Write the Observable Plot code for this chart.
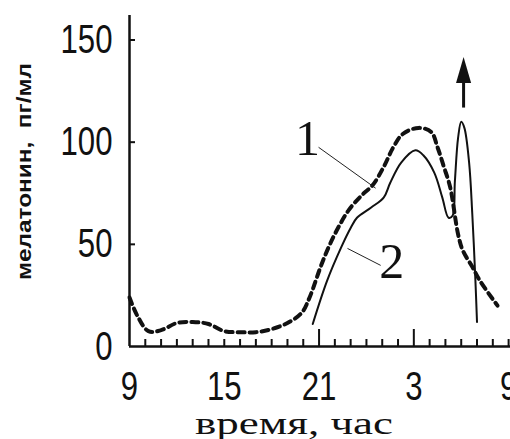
<!DOCTYPE html>
<html><head><meta charset="utf-8">
<script src="https://cdn.jsdelivr.net/npm/d3@7"></script>
<script src="https://cdn.jsdelivr.net/npm/@observablehq/plot@0.6"></script>
<style>body{margin:0;background:#fff}</style>
</head><body><div id="chart"></div>
<script>
// Curve 1 (dashed): hour of day (9..33, where 24+ = next day) and melatonin pg/ml
const hours1 = [9.0, 9.5, 10.2, 11.0, 12.0, 13.0, 14.0, 15.0, 16.0, 17.0, 18.0, 19.0, 19.9, 20.4, 21.1, 21.6, 22.2, 22.9, 23.7, 24.4, 25.1, 25.7, 26.3, 27.3, 28.1, 28.5, 28.9, 29.3, 29.8, 30.1, 30.7, 31.2, 32.3];
const values1 = [24, 15, 7.5, 8, 11.5, 12, 11, 7.5, 7, 7, 8.5, 11.5, 16.5, 24, 39, 48.5, 58, 67, 74, 79, 88, 97.5, 104, 107, 105, 97.5, 88, 78, 55, 47, 39, 32, 20];
// Curve 2 (solid)
const hours2 = [20.6, 21.5, 22.4, 23.0, 23.4, 24.3, 25.1, 25.5, 26.2, 27.1, 27.6, 28.3, 28.8, 29.2, 29.45, 29.6, 29.8, 30.0, 30.2, 30.5, 30.7, 30.9, 31.0];
const values2 = [11, 32, 48.5, 58, 63, 68, 73, 80, 90, 96, 93.6, 85, 73, 63, 64, 81, 102, 110, 107, 90, 65, 32, 12];
// Axis ticks
const yTickValues = [0, 50, 100, 150];
const xLabelHours = [9, 15, 21, 27, 33];
const xMajorHours = [21, 27];
const xMinorHours = [10,11,12,13,14,15,16,17,18,19,20,22,23,24,25,26,28,29,30,31,32,33];
// Annotations
const curveLabels = [{h: 20.27, v: 93.6, t: "1"}, {h: 25.6, v: 33.3, t: "2"}];
const leaders = [{h1: 20.97, v1: 97.5, h2: 24.58, v2: 77.5}, {h1: 22.8, v1: 48, h2: 24.9, v2: 39.7}];
const arrowShaft = [{h: 30.15, v1: 116.7, v2: 132}];
const arrowHead = [{h: 30.15, v: 135.3}];
const yTitle = "мелатонин,  пг/мл";
const xTitle = "время, час";

const series1 = hours1.map((h, i) => ({h, v: values1[i]}));
const series2 = hours2.map((h, i) => ({h, v: values2[i]}));

const headSymbol = {
  draw(context, size) {
    const r = Math.sqrt(size / Math.PI);
    context.moveTo(0, -r);
    context.lineTo(0.58 * r, r);
    context.lineTo(-0.58 * r, r);
    context.closePath();
  }
};

const tickFont = "Liberation Sans, Arial, sans-serif";

const chart = Plot.plot({
  width: 510,
  height: 439,
  marginLeft: 129,
  marginRight: 0,
  marginTop: 15,
  marginBottom: 93,
  style: {background: "#fff", color: "#111", overflow: "visible"},
  x: {domain: [9, 33.12]},
  y: {domain: [0, 162]},
  marks: [
    Plot.axisY({ticks: yTickValues.filter(d => d > 0), tickSize: -6, tickFormat: () => "", label: null, strokeWidth: 2}),
    Plot.axisY({ticks: yTickValues, tickSize: 0, tickPadding: 17, label: null, fontSize: 41, fontFamily: tickFont, fill: "#111", stroke: "#111", strokeWidth: 0.6}),
    Plot.axisX({ticks: xMinorHours, tickSize: -7, tickFormat: () => "", label: null, strokeWidth: 2}),
    Plot.axisX({ticks: xMajorHours, tickSize: -17, tickFormat: () => "", label: null, strokeWidth: 2}),
    Plot.axisX({ticks: xLabelHours, tickSize: 0, tickPadding: 24, tickFormat: d => String(d % 24 === 0 ? 24 : d % 24), label: null, fontSize: 41, fontFamily: tickFont, fill: "#111", stroke: "#111", strokeWidth: 0.6}),
    Plot.ruleY([0], {strokeWidth: 2.5}),
    Plot.ruleX([9], {strokeWidth: 2.5}),
    Plot.line(series1, {x: "h", y: "v", curve: "catmull-rom", strokeWidth: 4, strokeDasharray: "7,5", stroke: "#111"}),
    Plot.line(series2, {x: "h", y: "v", curve: "catmull-rom", strokeWidth: 2, stroke: "#111"}),
    Plot.link(leaders, {x1: "h1", y1: "v1", x2: "h2", y2: "v2", strokeWidth: 1, stroke: "#222"}),
    Plot.text(curveLabels, {x: "h", y: "v", text: "t", fontSize: 50, fontFamily: "Liberation Serif", lineAnchor: "bottom", fill: "#111"}),
    Plot.ruleX(arrowShaft, {x: "h", y1: "v1", y2: "v2", strokeWidth: 3}),
    Plot.dot(arrowHead, {x: "h", y: "v", r: 13, symbol: headSymbol, fill: "#111", stroke: null}),
    Plot.text([yTitle], {frameAnchor: "left", textAnchor: "middle", lineAnchor: "middle", rotate: -90, dx: -105, dy: -9.5, fontSize: 21, fontFamily: "Liberation Sans", fontWeight: "bold", fill: "#111"}),
    Plot.text([xTitle], {frameAnchor: "bottom", textAnchor: "middle", lineAnchor: "bottom", dx: -26, dy: 87, fontSize: 32, fontFamily: "Liberation Serif", fill: "#111"})
  ]
});
document.getElementById("chart").appendChild(chart);

// Narrow the tick numerals (the reference uses a condensed face) and fit the titles to the reference widths
d3.select(chart).selectAll('g[aria-label$="tick label"] text').each(function() {
  const w = this.getComputedTextLength();
  if (w > 0) {
    this.setAttribute("textLength", (w * 0.76).toFixed(1));
    this.setAttribute("lengthAdjust", "spacingAndGlyphs");
  }
});
d3.select(chart).selectAll("text").each(function() {
  if (this.textContent === yTitle) {
    this.setAttribute("textLength", 217);
    this.setAttribute("lengthAdjust", "spacingAndGlyphs");
  } else if (this.textContent === xTitle) {
    this.setAttribute("textLength", 198);
    this.setAttribute("lengthAdjust", "spacingAndGlyphs");
  }
});
</script>
</body></html>
